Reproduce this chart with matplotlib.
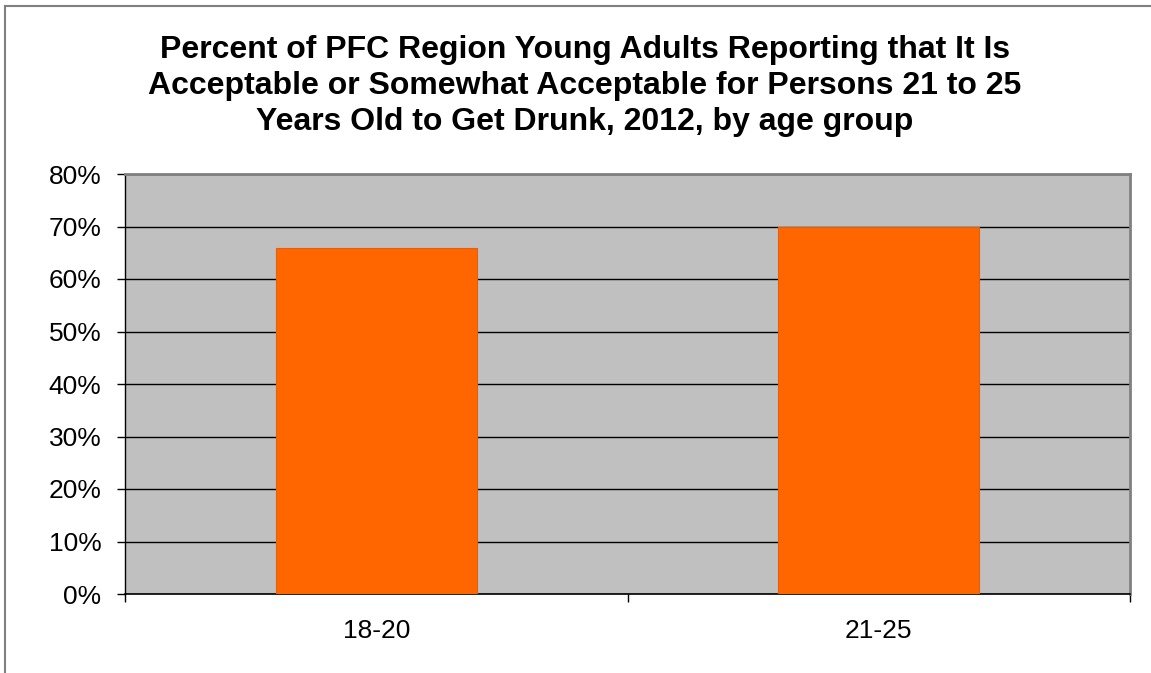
import numpy as np
import matplotlib.pyplot as plt
from matplotlib.lines import Line2D

groups = ["18-20", "21-25"]
pct = [66, 70]
yticks = [0, 10, 20, 30, 40, 50, 60, 70, 80]

plt.rcParams['font.family'] = ['Liberation Sans', 'DejaVu Sans']

fig = plt.figure(figsize=(11.51, 6.73), dpi=100)
W, H = 1151, 673
# plot area in pixels: x 125..1130, y 174..594
ax = fig.add_axes([125 / W, 1 - 594 / H, (1130 - 125) / W, (594 - 174) / H])
ax.set_facecolor('#C0C0C0')

x = np.arange(len(groups))
ax.bar(x, pct, width=0.4, color='#FF6600', edgecolor='#E06010', linewidth=0.8, zorder=3)

ax.set_xlim(-0.5, len(groups) - 0.5)
ax.set_ylim(0, 80)
ax.set_yticks(yticks)
ax.set_yticklabels([f"{v}%" for v in yticks], fontsize=19)
ax.yaxis.grid(True, color='black', linewidth=1.0, zorder=1)
ax.set_axisbelow(True)

ax.set_xticks(x)
ax.set_xticklabels(groups, fontsize=19)
ax.tick_params(axis='x', length=0, pad=18)
ax.set_xticks(np.arange(len(groups) + 1) - 0.5, minor=True)
ax.tick_params(axis='x', which='minor', length=6, width=1, color='black', direction='out')
ax.tick_params(axis='y', length=6, width=1, color='black', direction='out', pad=11)

for side in ['top', 'right']:
    ax.spines[side].set_color('#808080')
    ax.spines[side].set_linewidth(2)
ax.spines['left'].set_color('black')
ax.spines['bottom'].set_color('black')
ax.spines['left'].set_linewidth(1)
ax.spines['bottom'].set_linewidth(1.2)

fig.text(585 / W, 1 - 86 / H,
         "Percent of PFC Region Young Adults Reporting that It Is\n"
         "Acceptable or Somewhat Acceptable for Persons 21 to 25\n"
         "Years Old to Get Drunk, 2012, by age group",
         ha='center', va='center', fontsize=23, fontweight='bold', linespacing=1.26)

# outer chart frame
fig.add_artist(Line2D([5 / W, 5 / W], [0, 1 - 6 / H], color='#808080', linewidth=1.5))
fig.add_artist(Line2D([5 / W, 1], [1 - 6 / H, 1 - 6 / H], color='#808080', linewidth=1.5))

fig.savefig('out.png', dpi=100)
